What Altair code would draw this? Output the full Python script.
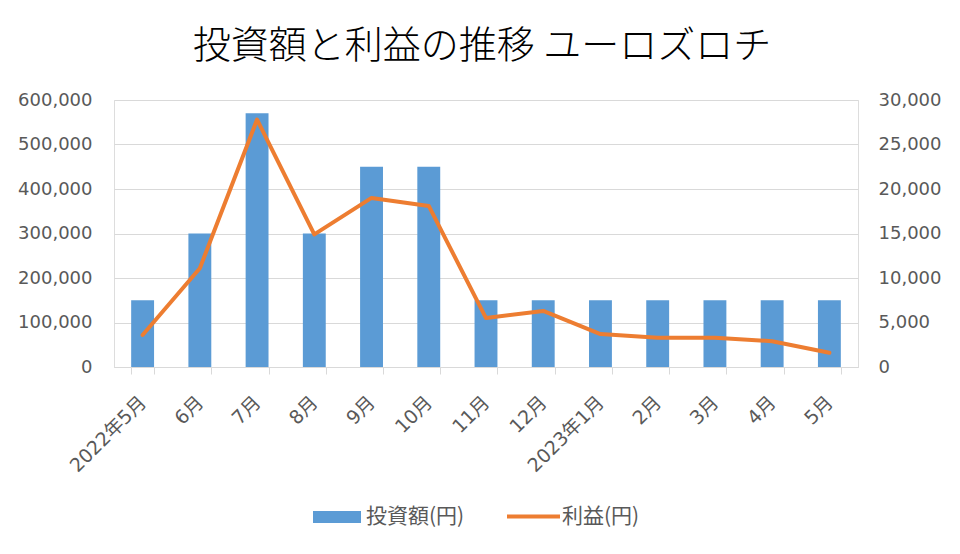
import altair as alt
import pandas as pd

months = ["2022年5月", "6月", "7月", "8月", "9月", "10月", "11月", "12月",
          "2023年1月", "2月", "3月", "4月", "5月"]
invest = [150000, 300000, 570000, 300000, 450000, 450000, 150000, 150000,
          150000, 150000, 150000, 150000, 150000]
profit = [3600, 11100, 27800, 14900, 19000, 18100, 5500, 6300,
          3700, 3300, 3300, 2900, 1600]
series_names = ["投資額(円)", "利益(円)"]

df = pd.DataFrame({"month": months, "invest": invest, "profit": profit})

CJK = "Noto Sans CJK JP"
NUM = "DejaVu Sans, Noto Sans CJK JP"
GREY = "#595959"
xscale = alt.Scale(paddingInner=0.6, paddingOuter=0.3)
xaxis = alt.Axis(title=None, labelAngle=-45, labelAlign="right", labelBaseline="middle",
                 labelFontSize=19, labelColor=GREY, labelFont=NUM, labelPadding=25,
                 domainColor="#D9D9D9", tickColor="#D9D9D9", tickSize=7, tickBand="extent",
                 grid=False)

bars = alt.Chart(df).transform_calculate(s1=f"'{series_names[0]}'").mark_bar(color="#5B9BD5").encode(
    x=alt.X("month:N", sort=months, scale=xscale, axis=xaxis),
    y=alt.Y("invest:Q", scale=alt.Scale(domain=[0, 600000], nice=False),
            axis=alt.Axis(title=None, values=list(range(0, 600001, 100000)), format=",.0f",
                          grid=True, gridColor="#D9D9D9", domain=False, ticks=False,
                          labelPadding=22, labelFontSize=18, labelColor=GREY, labelFont=NUM)),
    color=alt.Color("s1:N",
                    scale=alt.Scale(domain=[series_names[0]], range=["#5B9BD5"]),
                    legend=alt.Legend(title=None, orient="none", legendX=199, legendY=393,
                                      symbolType="M-1,-0.25L1,-0.25L1,0.25L-1,0.25Z",
                                      symbolSize=2304, symbolStrokeWidth=0, symbolOpacity=1,
                                      labelFontSize=21, labelColor=GREY, labelFont=CJK,
                                      labelOffset=5, padding=0)),
)

line = alt.Chart(df).transform_calculate(s2=f"'{series_names[1]}'").mark_line(
    strokeWidth=4, strokeJoin="round", strokeCap="round").encode(
    x=alt.X("month:N", sort=months, scale=xscale, axis=xaxis),
    y=alt.Y("profit:Q", scale=alt.Scale(domain=[0, 30000], nice=False),
            axis=alt.Axis(title=None, orient="right", values=list(range(0, 30001, 5000)),
                          format=",.0f", grid=False, domain=False, ticks=False,
                          labelPadding=20, labelFontSize=18, labelColor=GREY, labelFont=NUM)),
    stroke=alt.Stroke("s2:N",
                      scale=alt.Scale(domain=[series_names[1]], range=["#ED7D31"]),
                      legend=alt.Legend(title=None, orient="none", legendX=391, legendY=388,
                                        symbolType="stroke", symbolSize=2809,
                                        symbolStrokeWidth=4,
                                        labelFontSize=21, labelColor=GREY, labelFont=CJK,
                                        labelOffset=0, padding=0)),
)

chart = alt.layer(bars, line).resolve_scale(y="independent").properties(
    width=744, height=267,
    autosize=alt.AutoSizeParams(type="none"),
    padding={"left": 106, "top": 92, "right": 94, "bottom": 179},
    title=alt.Title("投資額と利益の推移 ユーロズロチ", fontSize=38, font=CJK,
                    fontWeight=300, color="#000000", anchor="middle",
                    baseline="bottom", offset=28, dx=-4, dy=41),
).configure_view(stroke=None).configure(background="white")

chart.save("out.html", embed_options={"renderer": "svg", "actions": False})
